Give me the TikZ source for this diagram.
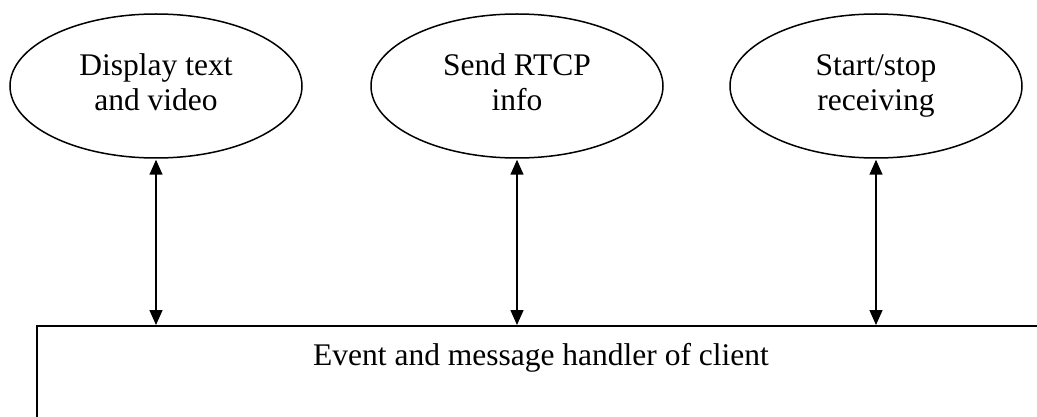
\documentclass[tikz,border=0pt]{standalone}
\usepackage{fontspec}
\setmainfont{Liberation Serif}
\usetikzlibrary{shapes.geometric,arrows.meta}
\newcommand{\bigtext}{\fontsize{31.5}{35}\selectfont}
\begin{document}
\begin{tikzpicture}[x=1pt,y=-1pt,
  task/.style={draw, ellipse, line width=1.5pt, minimum width=292pt, minimum height=144pt,
    inner sep=0pt, align=center, font=\bigtext},
  link/.style={line width=1.5pt, {Triangle[length=15pt,width=13pt]}-{Triangle[length=15pt,width=13pt]}},
  frame/.style={draw, line width=1.5pt, rectangle, inner sep=0pt, anchor=north west,
    minimum width=1040pt, minimum height=130pt}]
  \useasboundingbox (0,0) rectangle (1037,417);
  \clip (0,0) rectangle (1037,417);
  % client tasks
  \node[task] (disp) at (156,86) {\strut Display text\\\strut and video};
  \node[task] (rtcp) at (517,86) {\strut Send RTCP\\\strut info};
  \node[task] (recv) at (876,86) {\strut Start/stop\\\strut receiving};
  % event handler box, running off the page at right and bottom
  \node[frame] (handler) at (36,325) {};
  \node[font=\bigtext, anchor=base] (htext) at (541,365) {Event and message handler of client};
  % two-way links
  \draw[link] ([yshift=-1pt]disp.south) -- (disp.south |- handler.north);
  \draw[link] ([yshift=-1pt]rtcp.south) -- (rtcp.south |- handler.north);
  \draw[link] ([yshift=-1pt]recv.south) -- (recv.south |- handler.north);
\end{tikzpicture}
\end{document}
